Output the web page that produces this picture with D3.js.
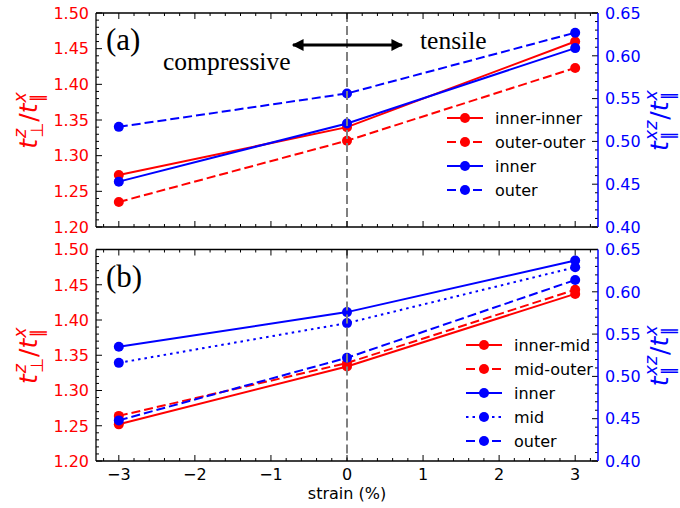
<!DOCTYPE html>
<html><head><meta charset="utf-8">
<script src="https://cdn.jsdelivr.net/npm/d3@7"></script>
<style>body{margin:0;background:#fff}svg{display:block}</style>
</head><body>
<svg id="c" width="680" height="508"></svg>
<script>
// ---- data ----
const strain = [-3, 0, 3];
const xTicks = [-3, -2, -1, 0, 1, 2, 3];
const leftTicks = [1.20, 1.25, 1.30, 1.35, 1.40, 1.45, 1.50];
const rightTicks = [0.40, 0.45, 0.50, 0.55, 0.60, 0.65];
// panel (a)
const innerInnerA = [1.273, 1.340, 1.460];
const outerOuterA = [1.235, 1.321, 1.423];
const innerA = [0.453, 0.521, 0.609];
const outerA = [0.517, 0.556, 0.627];
// panel (b)
const innerMidB = [1.252, 1.334, 1.437];
const midOuterB = [1.264, 1.339, 1.443];
const innerB = [0.535, 0.576, 0.637];
const midB = [0.516, 0.563, 0.629];
const outerB = [0.448, 0.522, 0.614];

const RED = "#ff0000", BLUE = "#0000ff";
const DASH = "9,4", DOT = "2.5,4";

const seriesA = [
  {name: "inner-inner", vals: innerInnerA, axis: "L", color: RED, dash: null},
  {name: "outer-outer", vals: outerOuterA, axis: "L", color: RED, dash: DASH},
  {name: "inner", vals: innerA, axis: "R", color: BLUE, dash: null},
  {name: "outer", vals: outerA, axis: "R", color: BLUE, dash: DASH}
];
const seriesB = [
  {name: "inner-mid", vals: innerMidB, axis: "L", color: RED, dash: null},
  {name: "mid-outer", vals: midOuterB, axis: "L", color: RED, dash: DASH},
  {name: "inner", vals: innerB, axis: "R", color: BLUE, dash: null},
  {name: "mid", vals: midB, axis: "R", color: BLUE, dash: DOT},
  {name: "outer", vals: outerB, axis: "R", color: BLUE, dash: DASH}
];

const svg = d3.select("#c");
const X0 = 96, X1 = 598;
const x = d3.scaleLinear().domain([-3.3, 3.3]).range([X0, X1]);
const FONT = "DejaVu Sans, sans-serif";
const SERIF = "Liberation Serif, Times New Roman, serif";

function ticks(lo, hi, step) {
  const n = Math.round((hi - lo) / step);
  return d3.range(n + 1).map(i => +(lo + i * step).toFixed(4));
}

function panel(top, bottom, series, label, legend, showX) {
  const yL = d3.scaleLinear().domain([1.20, 1.50]).range([bottom, top]);
  const yR = d3.scaleLinear().domain([0.40, 0.65]).range([bottom, top]);
  const g = svg.append("g");

  // series
  series.forEach(s => {
    const y = s.axis === "L" ? yL : yR;
    const pts = strain.map((v, i) => [x(v), y(s.vals[i])]);
    g.append("path").attr("d", d3.line()(pts)).attr("fill", "none")
      .attr("stroke", s.color).attr("stroke-width", 2)
      .attr("stroke-dasharray", s.dash);
    g.selectAll(null).data(pts).enter().append("circle")
      .attr("cx", d => d[0]).attr("cy", d => d[1]).attr("r", 5)
      .attr("fill", s.color);
  });

  // vertical dashed line at x=0
  g.append("line").attr("x1", x(0)).attr("x2", x(0)).attr("y1", top).attr("y2", bottom)
    .attr("stroke", "#808080").attr("stroke-width", 2).attr("stroke-dasharray", "9,4");

  // ticks
  const tk = g.append("g").attr("stroke", "#000").attr("stroke-width", 1);
  ticks(-3.2, 3.2, 0.2).forEach(v => {
    const major = Math.abs(v - Math.round(v)) < 1e-6;
    const L = major ? 6 : 3;
    tk.append("line").attr("x1", x(v)).attr("x2", x(v)).attr("y1", bottom).attr("y2", bottom - L);
    tk.append("line").attr("x1", x(v)).attr("x2", x(v)).attr("y1", top).attr("y2", top + L);
  });
  ticks(1.20, 1.50, 0.01).forEach((v, i) => {
    const L = i % 5 === 0 ? 6 : 3;
    tk.append("line").attr("x1", X0).attr("x2", X0 + L).attr("y1", yL(v)).attr("y2", yL(v));
  });
  ticks(0.40, 0.65, 0.01).forEach((v, i) => {
    const L = i % 5 === 0 ? 6 : 3;
    tk.append("line").attr("x1", X1).attr("x2", X1 - L).attr("y1", yR(v)).attr("y2", yR(v));
  });

  // frame
  g.append("line").attr("x1", X0).attr("x2", X1).attr("y1", top).attr("y2", top).attr("stroke", "#000").attr("stroke-width", 1.3);
  g.append("line").attr("x1", X0).attr("x2", X1).attr("y1", bottom).attr("y2", bottom).attr("stroke", "#000").attr("stroke-width", 1.3);
  g.append("line").attr("x1", X0).attr("x2", X0).attr("y1", top).attr("y2", bottom).attr("stroke", "#000").attr("stroke-width", 1.3);
  g.append("line").attr("x1", X1).attr("x2", X1).attr("y1", top).attr("y2", bottom).attr("stroke", BLUE).attr("stroke-width", 1.5);

  // tick labels
  leftTicks.forEach(v => g.append("text").attr("x", 89).attr("y", yL(v)).attr("dy", "0.36em")
    .attr("text-anchor", "end").attr("font-family", FONT).attr("font-size", 16).attr("fill", RED)
    .text(v.toFixed(2)));
  rightTicks.forEach(v => g.append("text").attr("x", 605).attr("y", yR(v)).attr("dy", "0.36em")
    .attr("font-family", FONT).attr("font-size", 16).attr("fill", BLUE)
    .text(v.toFixed(2)));
  if (showX) {
    xTicks.forEach(v => g.append("text").attr("x", x(v)).attr("y", bottom + 19)
      .attr("text-anchor", "middle").attr("font-family", FONT).attr("font-size", 16).attr("fill", "#000")
      .text(v < 0 ? "\u2212" + Math.abs(v) : String(v)));
  }

  // panel label
  g.append("text").attr("x", 106).attr("y", top + 37).attr("font-family", SERIF)
    .attr("font-size", 31).attr("fill", "#000").text(label);

  // legend
  series.forEach((s, i) => {
    const ly = legend.y + i * 24;
    g.append("line").attr("x1", legend.x).attr("x2", legend.x + 36).attr("y1", ly).attr("y2", ly)
      .attr("stroke", s.color).attr("stroke-width", 2).attr("stroke-dasharray", s.dash);
    g.append("circle").attr("cx", legend.x + 18).attr("cy", ly).attr("r", 5).attr("fill", s.color);
    g.append("text").attr("x", legend.x + 48).attr("y", ly).attr("dy", "0.36em")
      .attr("font-family", FONT).attr("font-size", 16).attr("fill", "#000").text(s.name);
  });

  // axis labels
  mathLabel(37, (top + bottom) / 2, RED, [["t", "z", "\u22A5"], [" /"], ["t", "x", "\u2225"]]);
  mathLabel(668, (top + bottom) / 2, BLUE, [["t", "xz", "\u2225"], ["/"], ["t", "x", "\u2225"]]);
  return {yL, yR};
}

function mathLabel(bx, cy, color, parts) {
  const FS = 25, SS = 17.5;
  const g = svg.append("g");
  const inner = g.append("g");
  let cur = 0;
  parts.forEach(p => {
    const main = inner.append("text").attr("x", cur).attr("y", 0).attr("font-family", FONT)
      .attr("font-size", FS).attr("fill", color).text(p[0]);
    if (p.length === 3) main.attr("font-style", "italic");
    cur += main.node().getComputedTextLength();
    if (p.length === 3) {
      const sup = inner.append("text").attr("x", cur + 1).attr("y", -11).attr("font-family", FONT)
        .attr("font-size", SS).attr("font-style", "italic").attr("fill", color).text(p[1]);
      const sub = inner.append("text").attr("x", cur + 1).attr("y", 6).attr("font-family", FONT)
        .attr("font-size", SS).attr("fill", color).text(p[2]);
      cur += Math.max(sup.node().getComputedTextLength(), sub.node().getComputedTextLength()) + 2;
    }
  });
  inner.attr("transform", `translate(${-cur / 2},0)`);
  g.attr("transform", `translate(${bx},${cy}) rotate(-90)`);
}

panel(13, 227, seriesA, "(a)", {x: 447, y: 118}, false);
panel(249.5, 461, seriesB, "(b)", {x: 466, y: 345}, true);

// x axis label
svg.append("text").attr("x", x(0)).attr("y", 499).attr("text-anchor", "middle")
  .attr("font-family", FONT).attr("font-size", 16).attr("fill", "#000").text("strain (%)");

// annotations
svg.append("text").attr("x", 163).attr("y", 70).attr("font-family", SERIF).attr("font-size", 25.5)
  .attr("fill", "#000").text("compressive");
svg.append("text").attr("x", 420).attr("y", 49).attr("font-family", SERIF).attr("font-size", 25.5)
  .attr("fill", "#000").text("tensile");

const defs = svg.append("defs");
defs.append("marker").attr("id", "ah").attr("viewBox", "0 0 10 10").attr("refX", 9).attr("refY", 5)
  .attr("markerWidth", 5).attr("markerHeight", 4.2).attr("markerUnits", "strokeWidth").attr("orient", "auto")
  .append("path").attr("d", "M0,0 L10,5 L0,10 z").attr("fill", "#000");
const ay = 45;
svg.append("line").attr("x1", x(0)).attr("x2", 293).attr("y1", ay).attr("y2", ay)
  .attr("stroke", "#000").attr("stroke-width", 2.8).attr("marker-end", "url(#ah)");
svg.append("line").attr("x1", x(0)).attr("x2", 402).attr("y1", ay).attr("y2", ay)
  .attr("stroke", "#000").attr("stroke-width", 2.8).attr("marker-end", "url(#ah)");
</script>
</body></html>
